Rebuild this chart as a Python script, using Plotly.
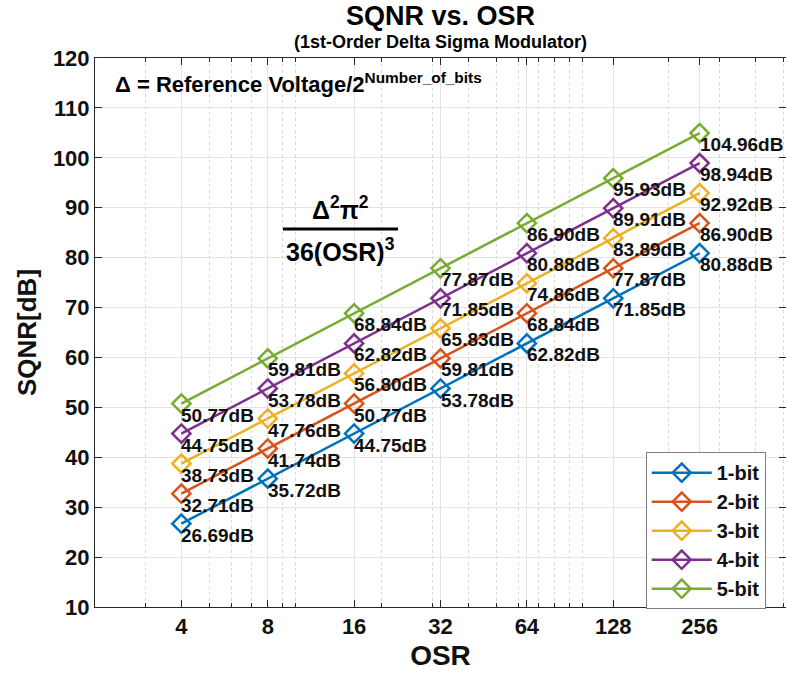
import math
import plotly.graph_objects as go

# Oversampling ratios and SQNR (dB) for a 1st-order delta-sigma modulator
osr = [4, 8, 16, 32, 64, 128, 256]
sqnr_1bit = [26.69, 35.72, 44.75, 53.78, 62.82, 71.85, 80.88]
sqnr_2bit = [32.71, 41.74, 50.77, 59.81, 68.84, 77.87, 86.90]
sqnr_3bit = [38.73, 47.76, 56.80, 65.83, 74.86, 83.89, 92.92]
sqnr_4bit = [44.75, 53.78, 62.82, 71.85, 80.88, 89.91, 98.94]
sqnr_5bit = [50.77, 59.81, 68.84, 77.87, 86.90, 95.93, 104.96]

series_names = ["1-bit", "2-bit", "3-bit", "4-bit", "5-bit"]
series_values = [sqnr_1bit, sqnr_2bit, sqnr_3bit, sqnr_4bit, sqnr_5bit]
colors = ["#0072BD", "#D95319", "#EDB120", "#7E2F8E", "#77AC30"]

x_ticks = [4, 8, 16, 32, 64, 128, 256]
x_minor = [3, 5, 6, 7, 9, 10, 20, 30, 40, 50, 60, 70, 80, 90, 100, 200, 300, 400, 500]
y_ticks = list(range(10, 121, 10))

FONT = "Liberation Sans, Arial, Helvetica, sans-serif"
AXIS = "#262626"

fig = go.Figure()
for name, vals, col in zip(series_names, series_values, colors):
    fig.add_trace(go.Scatter(
        x=osr, y=vals, name=name, mode="lines+markers",
        line=dict(color=col, width=2.5),
        marker=dict(symbol="diamond-open", size=14, color=col,
                    line=dict(color=col, width=2.5)),
    ))

# value labels below-right of each marker (log axis -> annotation x in log10)
annotations = []
for vals in series_values:
    for x, v in zip(osr, vals):
        annotations.append(dict(
            x=math.log10(x), y=v, xref="x", yref="y", text=f"{v:.2f}dB",
            showarrow=False, xanchor="left", yanchor="top",
            xshift=-2, yshift=1,
            font=dict(family=FONT, size=19, color="#111111", weight="bold"),
        ))

# titles
annotations.append(dict(
    x=0.5, y=1.0765, xref="paper", yref="paper", text="SQNR vs. OSR",
    showarrow=False, xanchor="center", yanchor="middle",
    font=dict(family=FONT, size=27, color="#000000", weight="bold")))
annotations.append(dict(
    x=0.5, y=1.029, xref="paper", yref="paper",
    text="(1st-Order Delta Sigma Modulator)",
    showarrow=False, xanchor="center", yanchor="middle",
    font=dict(family=FONT, size=18, color="#000000", weight="bold")))

# step-size definition
annotations.append(dict(
    x=0.026, y=0.954, xref="paper", yref="paper",
    text="Δ = Reference Voltage/2<sup>Number_of_bits</sup>",
    showarrow=False, xanchor="left", yanchor="middle",
    font=dict(family=FONT, size=22, color="#000000", weight="bold")))

# quantization noise power fraction
annotations.append(dict(
    x=0.356, y=0.727, xref="paper", yref="paper",
    text="Δ<sup>2</sup>π<sup>2</sup>",
    showarrow=False, xanchor="center", yanchor="middle",
    font=dict(family=FONT, size=25, color="#000000", weight="bold")))
annotations.append(dict(
    x=0.356, y=0.650, xref="paper", yref="paper",
    text="36(OSR)<sup>3</sup>",
    showarrow=False, xanchor="center", yanchor="middle",
    font=dict(family=FONT, size=25, color="#000000", weight="bold")))

shapes = [dict(type="line", xref="paper", yref="paper",
               x0=0.272, x1=0.4385, y0=0.6885, y1=0.6885,
               line=dict(color="#000000", width=3))]

fig.update_layout(
    width=786, height=678,
    margin=dict(l=95, r=0, t=58, b=71),
    paper_bgcolor="white", plot_bgcolor="white",
    font=dict(family=FONT, color="#000000"),
    annotations=annotations, shapes=shapes,
    showlegend=True,
    legend=dict(
        x=0.797, y=0.282, xanchor="left", yanchor="top",
        bgcolor="white", bordercolor="#808080", borderwidth=1,
        font=dict(family=FONT, size=20, color="#111111", weight="bold"),
        itemwidth=60, tracegroupgap=0,
    ),
)

fig.update_xaxes(
    type="log", range=[0.30103, 2.70927],
    tickmode="array", tickvals=x_ticks, ticktext=[str(t) for t in x_ticks],
    tickfont=dict(family=FONT, size=22, color="#111111", weight="bold"),
    showline=True, linecolor=AXIS, linewidth=1, mirror="ticks",
    ticks="inside", ticklen=7, tickcolor=AXIS,
    showgrid=True, gridcolor="#e3e3e3", gridwidth=1, zeroline=False,
    minor=dict(tickmode="array", tickvals=x_minor, ticks="inside", ticklen=4,
               tickcolor=AXIS, showgrid=True, gridcolor="#d8d8d8",
               griddash="dot", gridwidth=1),
    title=dict(text="OSR", standoff=6,
               font=dict(family=FONT, size=28, color="#111111", weight="bold")),
)
fig.update_yaxes(
    range=[10, 120], tickmode="array", tickvals=y_ticks,
    tickfont=dict(family=FONT, size=22, color="#111111", weight="bold"),
    showline=True, linecolor=AXIS, linewidth=1, mirror="ticks",
    ticks="inside", ticklen=7, tickcolor=AXIS,
    showgrid=True, gridcolor="#e3e3e3", gridwidth=1, zeroline=False,
    title=dict(text="SQNR[dB]", standoff=8,
               font=dict(family=FONT, size=26, color="#111111", weight="bold")),
)

fig.write_html("out.html")
